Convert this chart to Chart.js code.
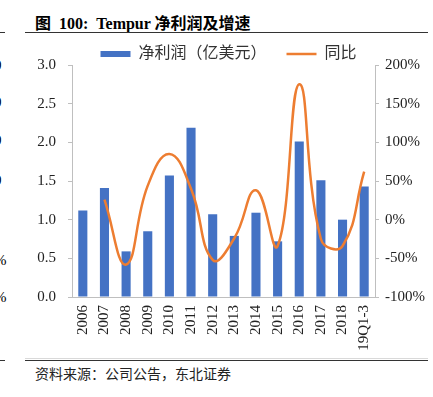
<!DOCTYPE html>
<html><head><meta charset="utf-8">
<script src="https://cdn.jsdelivr.net/npm/chart.js@4/dist/chart.umd.min.js"></script>
<style>
html,body{margin:0;padding:0;background:#fff;width:433px;height:397px;overflow:hidden;position:relative;}
#title{position:absolute;left:35px;top:10px;font:bold 16px "Liberation Serif","Noto Sans CJK SC",serif;color:#000;white-space:pre;}
.hl{position:absolute;height:0;}
#src{position:absolute;left:35px;top:363px;font:14px "Noto Sans CJK SC",sans-serif;color:#222;white-space:pre;}
.frag{position:absolute;font:15px "Liberation Serif",serif;color:#000;line-height:16px;}
#wrap{position:absolute;left:24px;top:23px;width:409px;height:335px;}
</style></head>
<body>
<div id="title">图  100:  Tempur 净利润及增速</div>
<div class="hl" style="left:25px;width:403px;top:32px;border-top:1.5px solid #333;"></div>
<div class="hl" style="left:0;width:5px;top:32px;border-top:1.5px solid #333;"></div>
<div class="hl" style="left:25px;width:403px;top:358px;border-top:1px solid #d9d9d9;"></div>
<div class="hl" style="left:25px;width:403px;top:360px;border-top:1.5px solid #333;"></div>
<div class="hl" style="left:0;width:5px;top:360px;border-top:1.5px solid #333;"></div>
<div class="frag" style="left:-6px;top:57px;">0</div>
<div class="frag" style="left:-6px;top:94px;">0</div>
<div class="frag" style="left:-6px;top:132px;">0</div>
<div class="frag" style="left:-6px;top:172px;">0</div>
<div class="frag" style="left:-6px;top:252px;">%</div>
<div class="frag" style="left:-6px;top:289px;">%</div>
<div id="src">资料来源：公司公告，东北证券</div>
<div id="wrap"><canvas id="c" width="409" height="335"></canvas></div>
<script>
const categories = ['2006','2007','2008','2009','2010','2011','2012','2013','2014','2015','2016','2017','2018','19Q1-3'];
const netProfit = [1.12,1.41,0.59,0.85,1.57,2.19,1.07,0.79,1.09,0.72,2.01,1.51,1.00,1.43];
const yoyGrowth = [null,26,-58,44,85,40,-52,-24,38,-34,175,-25,-34,62];
const leftTicks = [0,0.5,1.0,1.5,2.0,2.5,3.0];
const rightTicks = [-100,-50,0,50,100,150,200];

const serif = '"Liberation Serif", "Noto Sans CJK SC", serif';
const axisGray = '#bfbfbf';

new Chart(document.getElementById('c'), {
  data: {
    labels: categories,
    datasets: [
      {
        type: 'line',
        label: '同比',
        data: yoyGrowth,
        yAxisID: 'y2',
        borderColor: '#ED7D31',
        backgroundColor: '#ED7D31',
        borderWidth: 2.5,
        pointRadius: 0,
        tension: 0.45,
        pointStyle: 'line',
        order: 0
      },
      {
        type: 'bar',
        label: '净利润（亿美元）',
        data: netProfit,
        yAxisID: 'y',
        backgroundColor: '#4472C4',
        borderWidth: 0,
        categoryPercentage: 1,
        barPercentage: 0.42,
        pointStyle: 'rect',
        order: 1
      }
    ]
  },
  options: {
    responsive: false,
    animation: false,
    layout: { padding: 0 },
    plugins: {
      legend: {
        position: 'top',
        reverse: true,
        maxHeight: 42,
        title: { display: true, text: ' ', padding: 0, font: { size: 3, lineHeight: 1 } },
        labels: {
          usePointStyle: true,
          pointStyleWidth: 30,
          boxHeight: 6,
          padding: 20,
          color: '#333',
          font: { family: serif, size: 16, lineHeight: 0.68 }
        }
      },
      tooltip: { enabled: false }
    },
    scales: {
      x: {
        grid: { display: false, drawTicks: false },
        border: { color: axisGray },
        ticks: {
          minRotation: 90, maxRotation: 90, padding: 8,
          color: '#222', font: { family: serif, size: 15 }
        },
        afterFit: s => { s.height = 61; }
      },
      y: {
        position: 'left',
        min: 0, max: 3,
        afterBuildTicks: s => { s.ticks = leftTicks.map(v => ({ value: v })); },
        grid: { drawOnChartArea: false, drawTicks: true, tickLength: 4, color: axisGray },
        border: { color: axisGray },
        ticks: {
          padding: 12, color: '#222', font: { family: serif, size: 15 },
          callback: v => Number(v).toFixed(1)
        },
        afterFit: s => { s.width = 48; }
      },
      y2: {
        position: 'right',
        min: -100, max: 200,
        afterBuildTicks: s => { s.ticks = rightTicks.map(v => ({ value: v })); },
        grid: { drawOnChartArea: false, drawTicks: true, tickLength: 4, color: axisGray },
        border: { color: axisGray },
        ticks: {
          padding: 6, color: '#222', font: { family: serif, size: 15 },
          callback: v => v + '%'
        },
        afterFit: s => { s.width = 58; }
      }
    }
  }
});
</script>
</body></html>
